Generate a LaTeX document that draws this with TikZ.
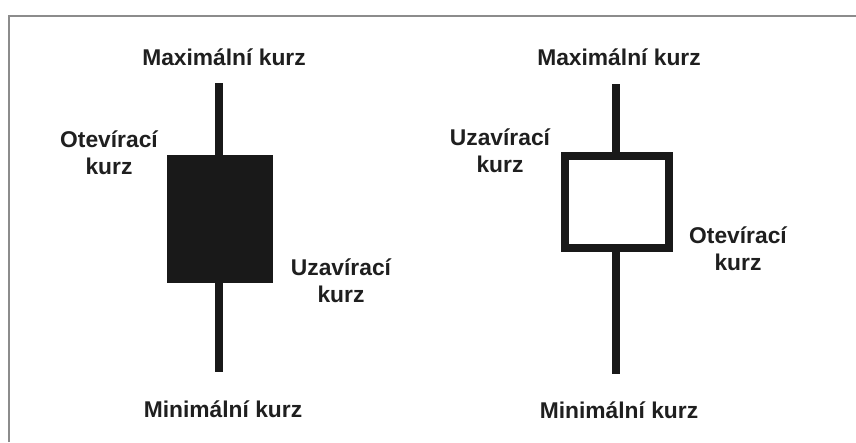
\documentclass[tikz,border=0pt]{standalone}
\usepackage{fontspec}
\setmainfont{Liberation Sans}
\begin{document}
\begin{tikzpicture}[x=1pt,y=-1pt,
  lbl/.style={font=\fontsize{22.8}{27}\selectfont\bfseries, text=black!88, inner sep=0pt, align=center},
  wick/.style={line width=8pt, draw=black!90},
  framestyle/.style={line width=2.5pt, draw=black!45}
]
% canvas
\useasboundingbox (0,0) rectangle (856,442);
\fill[white] (0,0) rectangle (856,442);
% frame: top and left edges only
\coordinate (fb) at (9,442);
\coordinate (fc) at (9,16);
\coordinate (fr) at (856,16);
\draw[framestyle] (fb) -- (fc) -- (fr);

% ---- bearish candle (filled body) ----
\coordinate (lt) at (219,83);
\coordinate (lb) at (219,372);
\draw[wick] (lt) -- (lb);
\node[fill=black!90, draw=none, minimum width=106pt, minimum height=128pt, inner sep=0pt] (lbody) at (220,219) {};
\node[lbl] (lmax) at (224,57) {Maximální kurz};
\node[lbl] (lopen) at (109,153) {Otevírací\\kurz};
\node[lbl] (lclose) at (341,281) {Uzavírací\\kurz};
\node[lbl] (lmin) at (223,409) {Minimální kurz};

% ---- bullish candle (hollow body) ----
\coordinate (rt) at (616,84);
\coordinate (rb) at (616,374);
\draw[wick] (rt) -- (rb);
\node[fill=white, draw=black!90, line width=8pt, minimum width=104pt, minimum height=92pt, inner sep=0pt] (rbody) at (617,202) {};
\node[lbl] (rmax) at (619,57) {Maximální kurz};
\node[lbl] (rclose) at (500,151) {Uzavírací\\kurz};
\node[lbl] (ropen) at (738,249) {Otevírací\\kurz};
\node[lbl] (rmin) at (619,410) {Minimální kurz};
\end{tikzpicture}
\end{document}
